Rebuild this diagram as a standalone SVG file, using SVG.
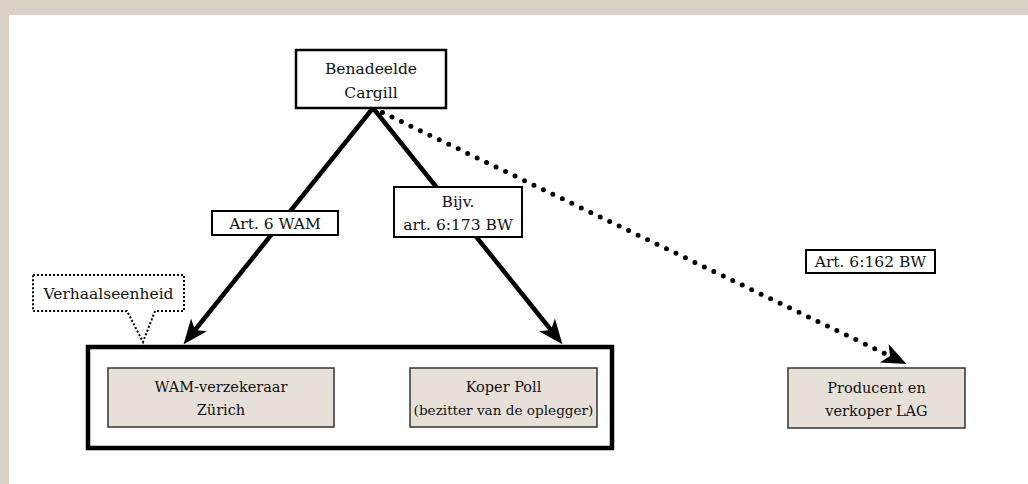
<svg xmlns="http://www.w3.org/2000/svg" width="1028" height="484" viewBox="0 0 1028 484">
<defs>
<style>
text{font-family:"DejaVu Serif","Liberation Serif",serif;font-size:14.5px;fill:#111;text-anchor:middle}
.big{font-size:15.5px}
.lt{font-size:15.5px}
.node{fill:#e6e0d9;stroke:#333;stroke-width:1.5}
.lbl{fill:#fff;stroke:#000;stroke-width:2}
.solid{stroke:#000;stroke-width:4.5;fill:none}
.dot{stroke:#000;stroke-width:5;fill:none;stroke-linecap:round;stroke-dasharray:0 10.5}
</style>
<marker id="ah" markerUnits="userSpaceOnUse" markerWidth="30" markerHeight="30" refX="6" refY="0" viewBox="-2 -12 28 24" orient="auto" overflow="visible">
<path d="M23,0 L0,-9.5 L6,0 L0,9.5 Z" fill="#000"/>
</marker>
</defs>
<rect width="1028" height="484" fill="#d9d0c6"/>
<rect x="9" y="15" width="1019" height="469" fill="#fff"/>

<g id="connectors">
<line class="solid" x1="373" y1="108" x2="195" y2="330" marker-end="url(#ah)"/>
<line class="solid" x1="373" y1="108" x2="551" y2="330" marker-end="url(#ah)"/>
<line class="dot" x1="373" y1="108" x2="890" y2="356"/>
<line x1="880" y1="351.2" x2="890" y2="356" stroke="none" marker-end="url(#ah)"/>
</g>

<g id="group-box">
<rect x="88" y="347" width="524" height="101" fill="none" stroke="#000" stroke-width="4.5"/>
</g>

<g id="benadeelde">
<rect x="296" y="50" width="150" height="58" fill="#fff" stroke="#000" stroke-width="2.5"/>
<text class="big" x="371" y="74">Benadeelde</text>
<text class="big" x="371" y="98">Cargill</text>
</g>

<g id="label-wam">
<rect class="lbl" x="212" y="211" width="126" height="24"/>
<text class="lt" x="275" y="228.5">Art. 6 WAM</text>
</g>

<g id="label-173">
<rect class="lbl" x="394" y="187" width="128" height="50"/>
<text class="lt" x="458" y="207">Bijv.</text>
<text class="lt" x="458" y="230">art. 6:173 BW</text>
</g>

<g id="label-162">
<rect class="lbl" x="806" y="250" width="129" height="23"/>
<text class="lt" x="870.5" y="266.5">Art. 6:162 BW</text>
</g>

<g id="verhaalseenheid">
<path d="M33,275 H184 V311 H155 L143,342 L127,311 H33 Z" fill="#fff" stroke="#000" stroke-width="2" stroke-dasharray="2 2"/>
<text class="lt" x="108.5" y="298.5">Verhaalseenheid</text>
</g>

<g id="wam">
<rect class="node" x="108" y="368" width="226" height="59"/>
<text x="221" y="392">WAM-verzekeraar</text>
<text x="221" y="415">Zürich</text>
</g>

<g id="koper">
<rect class="node" x="410" y="368" width="187" height="59"/>
<text x="503.5" y="392">Koper Poll</text>
<text x="503.5" y="415" style="font-size:13.6px">(bezitter van de oplegger)</text>
</g>

<g id="producent">
<rect class="node" x="788" y="368" width="177" height="60"/>
<text x="876.5" y="393">Producent en</text>
<text x="876.5" y="416">verkoper LAG</text>
</g>
</svg>
